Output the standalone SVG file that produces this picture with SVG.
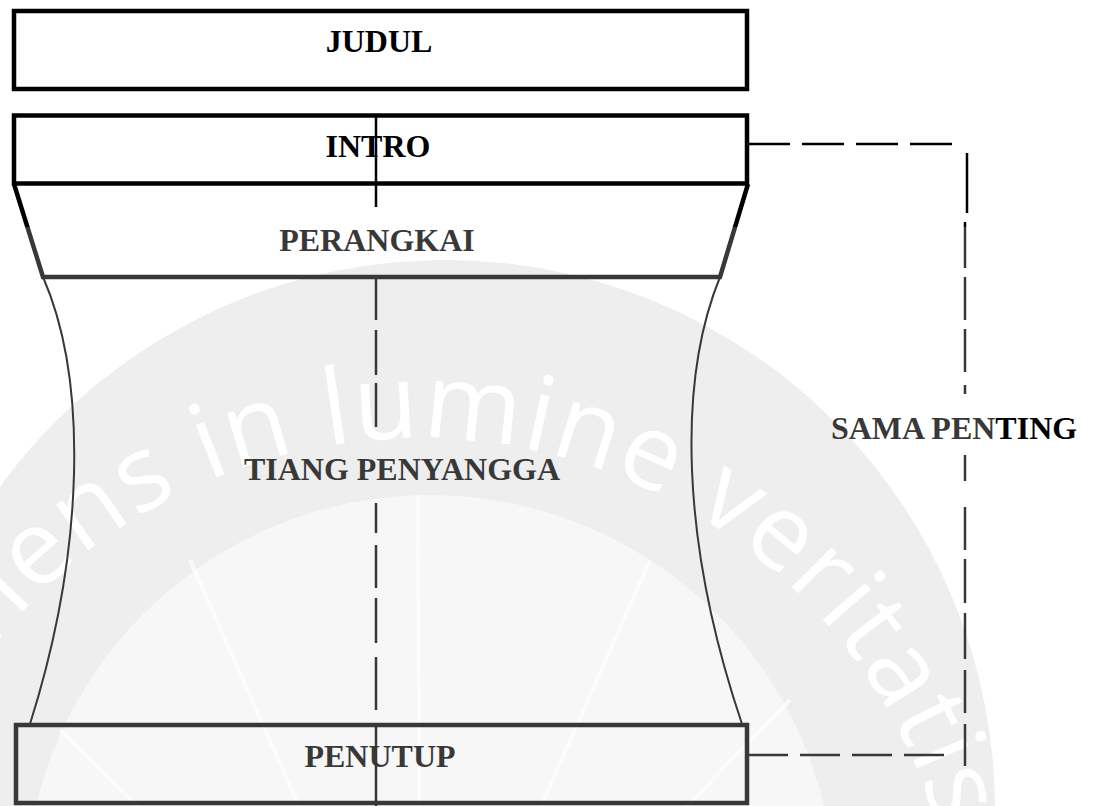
<svg xmlns="http://www.w3.org/2000/svg" width="1093" height="806" viewBox="0 0 1093 806">
  <style>
    .box { fill: none; stroke: #000; stroke-width: 4.5; stroke-linejoin: miter; }
    .curve { fill: none; stroke: #000; stroke-width: 2; }
    .lbl { font-family: "Liberation Serif", "Times New Roman", serif; font-weight: bold; font-size: 32px; fill: #000; text-anchor: middle; }
    .dash { stroke: #000; stroke-width: 2.5; fill: none; }
    .wm { font-family: "Open Sans", "DejaVu Sans", sans-serif; font-weight: normal; font-size: 105px; fill: #fff; letter-spacing: 2px; }
    .ray { stroke: #fff; stroke-width: 4; stroke-opacity: 0.7; }
  </style>
  <defs>
    <path id="wmArc" d="M -48.7 1248 A 540 540 0 1 1 886.7 1248"/>
    <clipPath id="wmClip"><rect x="0" y="227" width="996" height="579"/></clipPath>
  </defs>
  <rect x="0" y="0" width="1093" height="806" fill="#fff"/>

  <!-- watermark underlay -->
  <g id="watermark" clip-path="url(#wmClip)">
    <circle cx="445" cy="810" r="550" fill="#e9e9e9"/>
    <circle cx="430" cy="900" r="405" fill="#f5f5f5"/>
    <g class="ray">
      <line x1="420" y1="1080" x2="190" y2="560"/>
      <line x1="420" y1="1080" x2="418" y2="495"/>
      <line x1="420" y1="1080" x2="650" y2="560"/>
      <line x1="420" y1="1080" x2="60" y2="730"/>
      <line x1="420" y1="1080" x2="790" y2="700"/>
    </g>
    <text class="wm"><textPath href="#wmArc" startOffset="457">Serviens in lumine veritatis</textPath></text>
  </g>

  <g id="judul">
    <rect class="box" x="14" y="11" width="733" height="78"/>
    <text class="lbl" x="379" y="52">JUDUL</text>
  </g>

  <g id="intro">
    <rect class="box" x="14" y="115.5" width="733" height="68"/>
    <text class="lbl" x="378" y="157">INTRO</text>
  </g>

  <g id="perangkai">
    <path class="box" d="M 14 184 L 43 277 L 720 277 L 748 184"/>
    <text class="lbl" x="377" y="251">PERANGKAI</text>
  </g>

  <g id="tiang-penyangga">
    <path class="curve" d="M 43 277 C 88 380 85 550 30 724"/>
    <path class="curve" d="M 720 277 C 678 380 680 540 742 724"/>
    <text class="lbl" x="402" y="480">TIANG PENYANGGA</text>
  </g>

  <g id="penutup">
    <rect class="box" x="16" y="725" width="731" height="78"/>
    <text class="lbl" x="380" y="767">PENUTUP</text>
  </g>

  <g id="sama-penting">
    <text class="lbl" x="954" y="439">SAMA PENTING</text>
  </g>

  <g id="connectors">
    <!-- central axis -->
    <line class="dash" x1="376" y1="115" x2="376" y2="207"/>
    <line class="dash" x1="376" y1="277" x2="376" y2="320"/>
    <line class="dash" x1="376" y1="330" x2="376" y2="375"/>
    <line class="dash" x1="376" y1="383" x2="376" y2="427"/>
    <line class="dash" x1="376" y1="503" x2="376" y2="533"/>
    <line class="dash" x1="376" y1="545" x2="376" y2="588"/>
    <line class="dash" x1="376" y1="598" x2="376" y2="643"/>
    <line class="dash" x1="376" y1="657" x2="376" y2="710"/>
    <line class="dash" x1="376" y1="727" x2="376" y2="806"/>
    <!-- bracket -->
    <line class="dash" x1="748" y1="144" x2="952" y2="144" stroke-dasharray="42 12"/>
    <line class="dash" x1="748" y1="755" x2="950" y2="755" stroke-dasharray="40 12"/>
    <line class="dash" x1="967" y1="153" x2="967" y2="213"/>
    <line class="dash" x1="965" y1="222" x2="965" y2="268"/>
    <line class="dash" x1="965" y1="277" x2="965" y2="320"/>
    <line class="dash" x1="965" y1="329" x2="965" y2="372"/>
    <line class="dash" x1="965" y1="385" x2="965" y2="394"/>
    <line class="dash" x1="965" y1="455" x2="965" y2="481"/>
    <line class="dash" x1="965" y1="507" x2="965" y2="550"/>
    <line class="dash" x1="965" y1="559" x2="965" y2="603"/>
    <line class="dash" x1="965" y1="613" x2="965" y2="659"/>
    <line class="dash" x1="965" y1="670" x2="965" y2="713"/>
    <line class="dash" x1="965" y1="724" x2="965" y2="766"/>
  </g>

  <!-- watermark overlay (lightens everything beneath it) -->
  <rect x="0" y="227" width="996" height="579" fill="#fff" fill-opacity="0.22"/>
</svg>
